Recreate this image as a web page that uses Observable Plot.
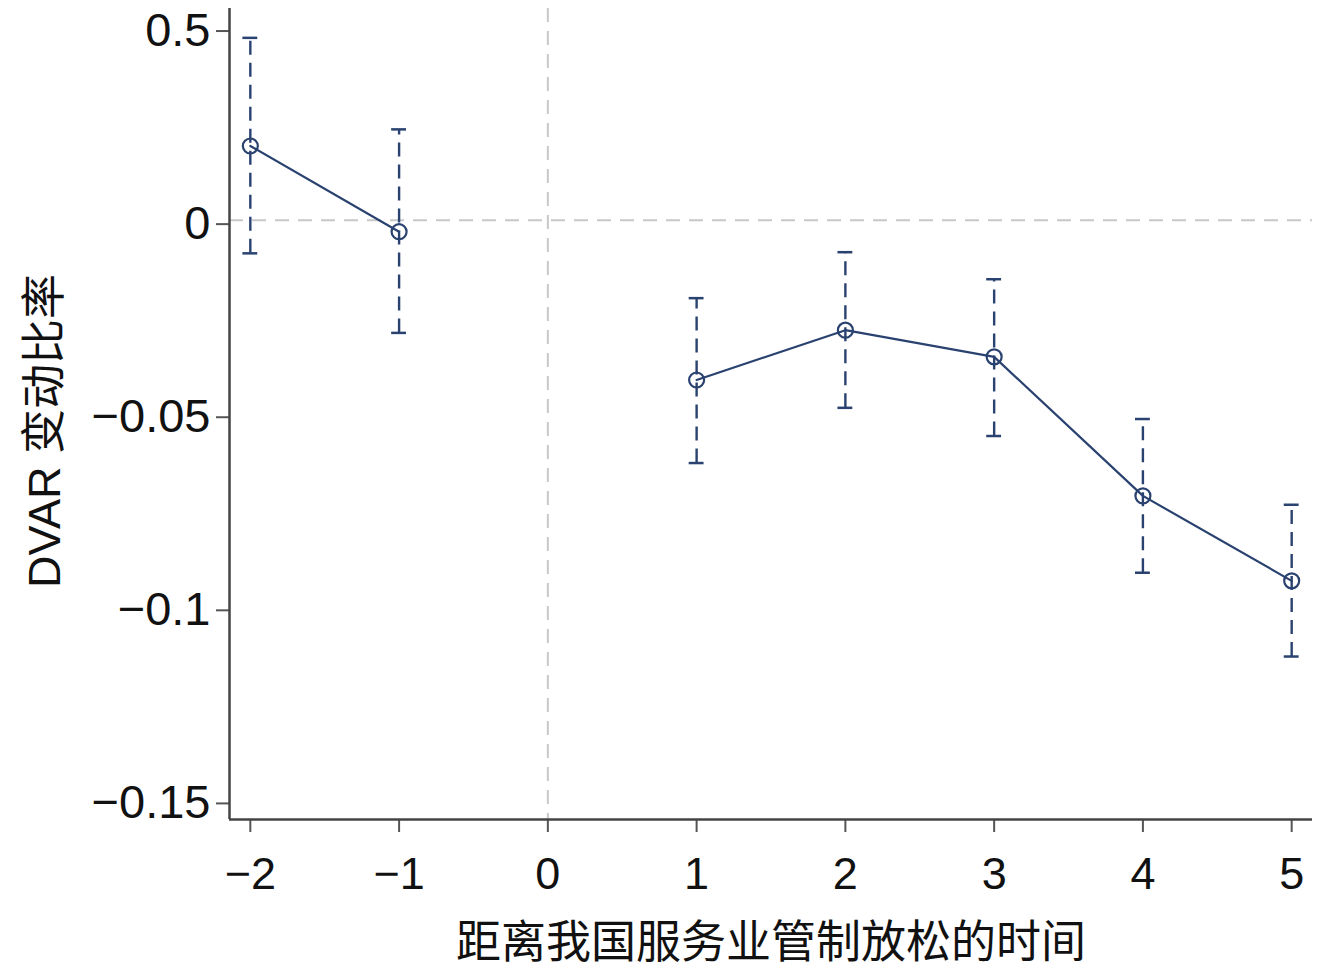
<!DOCTYPE html>
<html>
<head>
<meta charset="utf-8">
<script src="https://cdn.jsdelivr.net/npm/d3@7"></script>
<script src="https://cdn.jsdelivr.net/npm/@observablehq/plot@0.6"></script>
<style>
  html, body { margin: 0; padding: 0; background: #fff; }
  #chart { width: 1340px; height: 977px; }
  svg { font-family: "Liberation Sans", "Noto Sans CJK SC", sans-serif; }
</style>
</head>
<body>
<div id="chart"></div>
<script>
const periods   = [-2, -1, 1, 2, 3, 4, 5];
const phases    = ["pre", "pre", "post", "post", "post", "post", "post"];
const estimates = [0.0192, -0.0030, -0.0414, -0.0285, -0.0354, -0.0714, -0.0934];
const ciUpper   = [0.0472, 0.0235, -0.0202, -0.0083, -0.0153, -0.0515, -0.0737];
const ciLower   = [-0.0086, -0.0292, -0.0629, -0.0486, -0.0559, -0.0913, -0.1130];

const xTicks = [-2, -1, 0, 1, 2, 3, 4, 5];
const xTickLabels = ["−2", "−1", "0", "1", "2", "3", "4", "5"];
const yTicks = [0.05, 0, -0.05, -0.1, -0.15];
const yTickLabels = ["0.5", "0", "−0.05", "−0.1", "−0.15"];

const xTitle = "距离我国服务业管制放松的时间";
const yTitle = "DVAR 变动比率";

const data = periods.map((p, i) => ({x: p, phase: phases[i], est: estimates[i], hi: ciUpper[i], lo: ciLower[i]}));
const navy = "#2a4270";
const capHalf = 0.05;

const chart = Plot.plot({
  width: 1340,
  height: 977,
  marginLeft: 229,
  marginRight: 28,
  marginTop: 8,
  marginBottom: 158,
  style: {fontFamily: "'Liberation Sans', 'Noto Sans CJK SC', sans-serif", background: "#fff", color: "#111"},
  x: {domain: [-2.14, 5.14]},
  y: {domain: [-0.1552, 0.0548]},
  marks: [
    Plot.ruleY([0], {stroke: "#c8c8c8", strokeWidth: 2, strokeDasharray: "14,9"}),
    Plot.ruleX([0], {stroke: "#c8c8c8", strokeWidth: 2, strokeDasharray: "14,9"}),
    Plot.ruleX(data, {x: "x", y1: "lo", y2: "hi", stroke: navy, strokeWidth: 2.4, strokeDasharray: "14,8"}),
    Plot.ruleY(data, {y: "hi", x1: d => d.x - capHalf, x2: d => d.x + capHalf, stroke: navy, strokeWidth: 2.5}),
    Plot.ruleY(data, {y: "lo", x1: d => d.x - capHalf, x2: d => d.x + capHalf, stroke: navy, strokeWidth: 2.5}),
    Plot.line(data, {x: "x", y: "est", z: "phase", stroke: navy, strokeWidth: 2.2}),
    Plot.dot(data, {x: "x", y: "est", r: 7.5, stroke: navy, strokeWidth: 2.2, fill: "none"}),
    Plot.axisY({
      ticks: yTicks,
      tickFormat: d => yTickLabels[yTicks.indexOf(d)],
      tickSize: 13,
      tickPadding: 6,
      fontSize: 47,
      dy: 4,
      stroke: "#555",
      strokeWidth: 2,
      label: null
    }),
    Plot.axisX({
      ticks: xTicks,
      tickFormat: d => xTickLabels[xTicks.indexOf(d)],
      tickSize: 13,
      tickPadding: 25,
      fontSize: 45,
      stroke: "#555",
      strokeWidth: 2,
      label: null
    }),
    Plot.ruleX([-2.14], {stroke: "#444", strokeWidth: 2.5}),
    Plot.ruleY([-0.1552], {stroke: "#444", strokeWidth: 2.5}),
    Plot.text([xTitle], {frameAnchor: "bottom", dy: 138, fontSize: 45, fill: "#111", fontFamily: "'Noto Sans CJK SC', sans-serif"}),
    Plot.text([yTitle], {frameAnchor: "left", textAnchor: "middle", dx: -184, dy: 17, rotate: -90, fontSize: 45, fill: "#111", fontFamily: "'Liberation Sans', 'Noto Sans CJK SC', sans-serif"})
  ]
});
document.getElementById("chart").appendChild(chart);
</script>
</body>
</html>
